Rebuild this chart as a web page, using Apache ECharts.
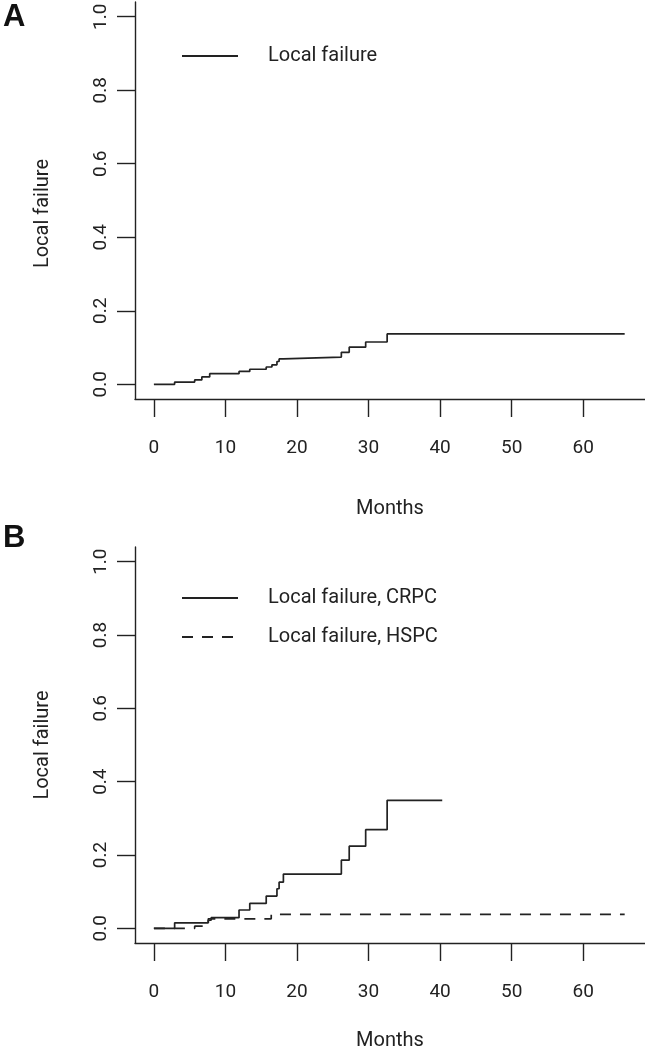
<!DOCTYPE html>
<html>
<head>
<meta charset="utf-8">
<script src="https://cdn.jsdelivr.net/npm/echarts@6/dist/echarts.min.js"></script>
<style>
html,body{margin:0;padding:0;background:#fff;}
#chart{width:645px;height:1050px;}
</style>
</head>
<body>
<div id="chart"></div>
<script>
// ---- data ----
const yTicks = [0, 0.2, 0.4, 0.6, 0.8, 1.0];
const xTicks = [0, 10, 20, 30, 40, 50, 60];

const allTimes  = [0, 2.9, 5.7, 6.7, 7.8, 11.9, 13.4, 15.7, 16.5, 17.2, 17.5, 18.1, 26.2, 27.3, 29.6, 32.6, 65.8];
const allValues = [0, 0.006, 0.012, 0.020, 0.029, 0.035, 0.041, 0.047, 0.053, 0.062, 0.069, 0.074, 0.087, 0.101, 0.115, 0.137, 0.137];

const crpcTimes  = [0, 2.9, 7.6, 8.0, 11.9, 13.4, 15.7, 17.2, 17.5, 18.1, 26.2, 27.3, 29.6, 32.6, 40.3];
const crpcValues = [0, 0.015, 0.022, 0.029, 0.050, 0.068, 0.088, 0.108, 0.126, 0.148, 0.186, 0.224, 0.269, 0.349, 0.349];

const hspcTimes  = [0, 5.7, 7.6, 16.4, 65.8];
const hspcValues = [0, 0.006, 0.026, 0.038, 0.038];

const nameA = 'Local failure';
const nameCRPC = 'Local failure, CRPC';
const nameHSPC = 'Local failure, HSPC';

// ---- chart ----
const FONT = 'Roboto';
const INK = '#222';
const pairs = (t, v) => t.map((x, i) => [x, v[i]]);

function xAxisCfg(gi, gap) {
  return {
    type: 'value', gridIndex: gi, min: -2.64, max: 68.64,
    name: 'Months', nameLocation: 'middle', nameGap: gap, nameMoveOverlap: false,
    nameTextStyle: {fontFamily: FONT, fontSize: 20, color: INK},
    axisLine: {show: true, onZero: false, lineStyle: {color: INK, width: 1.4}},
    axisTick: {show: true, inside: false, length: 18, customValues: xTicks, lineStyle: {color: INK, width: 1.4}},
    axisLabel: {customValues: xTicks, margin: 40, fontFamily: FONT, fontSize: 19, color: INK},
    splitLine: {show: false}
  };
}
function yAxisCfg(gi, shift) {
  return {
    type: 'value', gridIndex: gi, min: -0.04, max: 1.04,
    name: 'Local failure', nameLocation: 'middle', nameGap: 82, nameMoveOverlap: false,
    nameTextStyle: {fontFamily: FONT, fontSize: 20, color: INK, padding: [0, shift, 0, 0]},
    axisLine: {show: true, onZero: false, lineStyle: {color: INK, width: 1.4}},
    axisTick: {show: true, inside: false, length: 18, customValues: yTicks, lineStyle: {color: INK, width: 1.4}},
    axisLabel: {customValues: yTicks, rotate: 90, margin: 24, fontFamily: FONT, fontSize: 19, color: INK,
      formatter: v => v.toFixed(1)},
    splitLine: {show: false}
  };
}
const lineBase = {type: 'line', step: 'end', symbol: 'none', silent: true, animation: false};
const legendBase = {orient: 'vertical', itemWidth: 56, itemHeight: 14, selectedMode: false,
  itemStyle: {opacity: 0, color: 'transparent', borderWidth: 0},
  textStyle: {fontFamily: FONT, fontSize: 20, color: INK, padding: [0, 0, 0, 25]}};
const titleText = {fontFamily: 'Liberation Sans', fontWeight: 'bold', fontSize: 31, color: '#111'};

const option = {
  animation: false,
  backgroundColor: '#fff',
  title: [
    {text: 'A', left: 3, top: 2, padding: 0, textStyle: titleText},
    {text: 'B', left: 3, top: 523, padding: 0, textStyle: titleText}
  ],
  legend: [
    Object.assign({}, legendBase, {data: [nameA], left: 176, top: 41}),
    Object.assign({}, legendBase, {data: [nameCRPC, nameHSPC], left: 176, top: 583, itemGap: 19})
  ],
  grid: [
    {left: 135, top: 2, width: 510, height: 397, containLabel: false, outerBoundsMode: 'none'},
    {left: 135, top: 547, width: 510, height: 396, containLabel: false, outerBoundsMode: 'none'}
  ],
  xAxis: [xAxisCfg(0, 100), xAxisCfg(1, 88)],
  yAxis: [yAxisCfg(0, 26), yAxisCfg(1, 0)],
  series: [
    Object.assign({}, lineBase, {name: nameA, xAxisIndex: 0, yAxisIndex: 0, data: pairs(allTimes, allValues),
      lineStyle: {color: INK, width: 1.7}, itemStyle: {color: INK}}),
    Object.assign({}, lineBase, {name: nameCRPC, xAxisIndex: 1, yAxisIndex: 1, data: pairs(crpcTimes, crpcValues),
      lineStyle: {color: INK, width: 1.7}, itemStyle: {color: INK}}),
    Object.assign({}, lineBase, {name: nameHSPC, xAxisIndex: 1, yAxisIndex: 1, data: pairs(hspcTimes, hspcValues),
      lineStyle: {color: INK, width: 1.7, type: [11, 9]}, itemStyle: {color: INK}})
  ]
};
const chart = echarts.init(document.getElementById('chart'), null, {renderer: 'canvas'});
chart.setOption(option);
</script>
</body>
</html>
